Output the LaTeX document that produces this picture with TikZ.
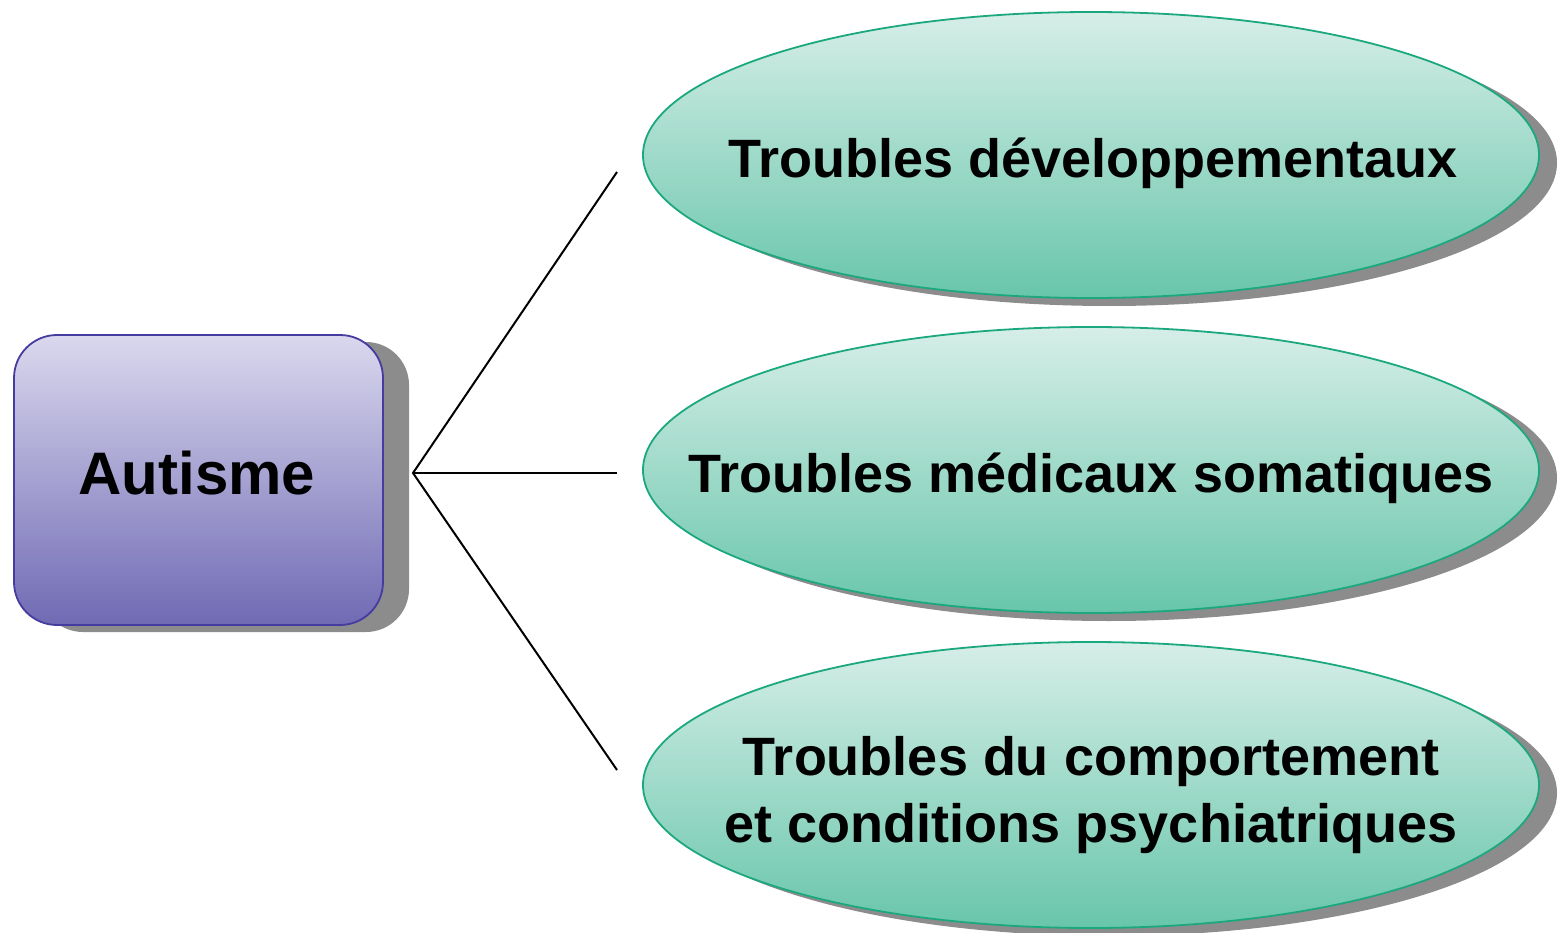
\documentclass[tikz,border=0pt]{standalone}
\usepackage{fontspec}
\setmainfont{Liberation Sans}
\usetikzlibrary{shapes.geometric,shadows}

\definecolor{boxtop}{RGB}{218,216,238}
\definecolor{boxbot}{RGB}{112,106,180}
\definecolor{boxline}{RGB}{70,60,160}
\definecolor{elltop}{RGB}{214,238,232}
\definecolor{ellbot}{RGB}{104,198,170}
\definecolor{ellline}{RGB}{28,168,126}
\definecolor{shade}{RGB}{140,140,140}

\tikzset{
  rootbox/.style={rectangle, rounded corners=43pt, draw=boxline, line width=1.8pt,
    top color=boxtop, bottom color=boxbot,
    minimum width=369pt, minimum height=290pt, inner sep=0pt,
    drop shadow={shadow xshift=26pt, shadow yshift=-7pt, fill=shade, opacity=1}},
  leafell/.style={ellipse, draw=ellline, line width=1.8pt,
    top color=elltop, bottom color=ellbot,
    minimum width=896pt, minimum height=286pt, inner sep=0pt,
    drop shadow={shadow xshift=18pt, shadow yshift=-8pt, fill=shade, opacity=1}},
  rootlabel/.style={inner sep=0pt, font=\bfseries\fontsize{60}{72}\selectfont},
  leaflabel/.style={inner sep=0pt, align=center, font=\bfseries\fontsize{54}{67}\selectfont},
  link/.style={draw=black, line width=2pt}
}

\begin{document}
\begin{tikzpicture}[x=1pt, y=-1pt]
  \useasboundingbox (0,0) rectangle (1558,933);

  % central box
  \node[rootbox] (root) at (198.5,480) {};
  \node[rootlabel] (roottext) at (197,473) {Autisme};

  % three categories
  \node[leafell] (dev) at (1091,155) {};
  \node[leafell] (med) at (1091,470) {};
  \node[leafell] (psy) at (1091,785) {};
  \node[leaflabel] (devtext) at (1093,163) {Troubles développementaux};
  \node[leaflabel] (medtext) at (1091,478) {Troubles médicaux somatiques};
  \node[leaflabel] (psytext) at (1091,795) {Troubles du comportement\\et conditions psychiatriques};

  % fan of connectors
  \coordinate (fork) at (413,473);
  \coordinate (endA) at (617,172);
  \coordinate (endB) at (617,473);
  \coordinate (endC) at (617,770);
  \draw[link] (endA) -- (fork) -- (endC);
  \draw[link] (fork) -- (endB);
\end{tikzpicture}
\end{document}
